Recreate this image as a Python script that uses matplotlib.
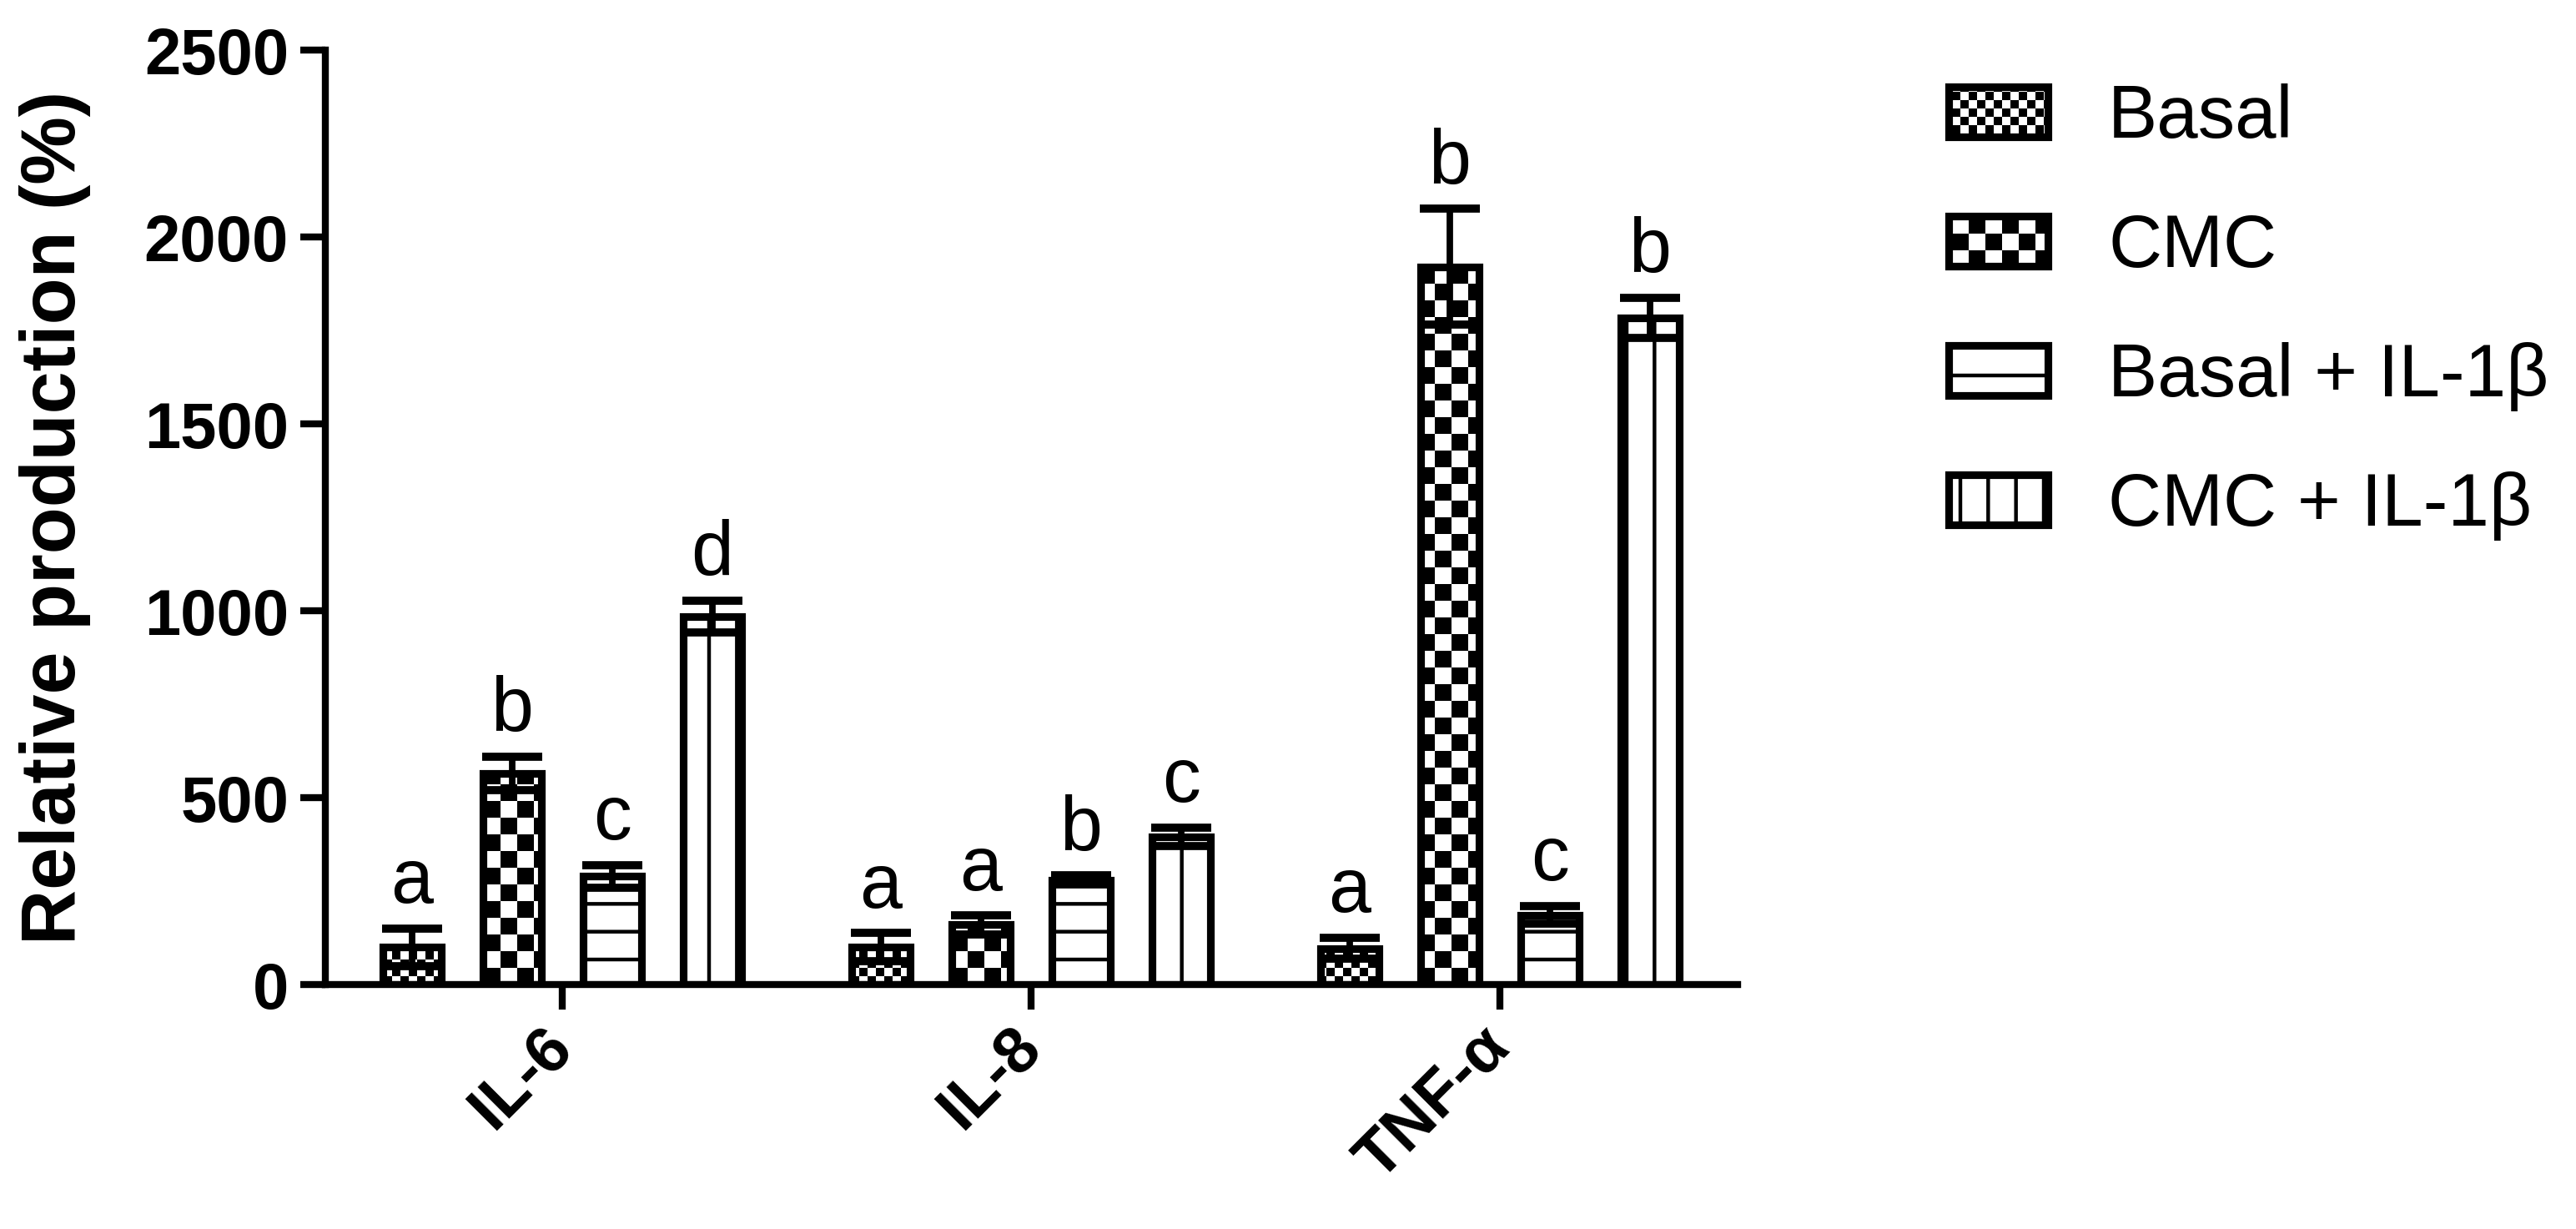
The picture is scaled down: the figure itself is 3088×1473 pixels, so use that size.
import numpy as np
import matplotlib
matplotlib.use('Agg')
import matplotlib.pyplot as plt
from matplotlib import hatch as mhatch
from matplotlib.path import Path

# ---------------- data ----------------
categories = ['IL-6', 'IL-8', 'TNF-α']
series = ['Basal', 'CMC', 'Basal + IL-1β', 'CMC + IL-1β']

basal = [100, 100, 97]
cmc = [565, 160, 1920]
basal_il1b = [290, 280, 186]
cmc_il1b = [985, 395, 1784]

basal_err = [50, 38, 28]
cmc_err = [45, 25, 155]
basal_il1b_err = [30, 12, 24]
cmc_il1b_err = [42, 25, 53]

basal_letters = ['a', 'a', 'a']
cmc_letters = ['b', 'a', 'b']
basal_il1b_letters = ['c', 'b', 'c']
cmc_il1b_letters = ['d', 'c', 'b']

yticks = [0, 500, 1000, 1500, 2000, 2500]

# ---------------- styles ----------------
DPI = 200
HATCH_LW = 1.6  # points
plt.rcParams['hatch.linewidth'] = HATCH_LW
plt.rcParams['hatch.color'] = 'black'
plt.rcParams['font.family'] = ['Liberation Sans', 'DejaVu Sans']

hatch_unit_px = DPI  # agg hatch tile = 72 pt
shrink = (HATCH_LW * DPI / 72.0) / hatch_unit_px / 2.0


class CheckerHatch(mhatch.HatchPatternBase):
    def __init__(self, hatch, density):
        if 'O' in hatch:
            self.n = 10
        elif 'o' in hatch:
            self.n = 20
        else:
            self.n = 0
        self.cells = [(i, j) for i in range(self.n) for j in range(self.n)
                      if (i + j) % 2 == 0]
        self.num_vertices = len(self.cells) * 5

    def set_vertices_and_codes(self, vertices, codes):
        s = 1.0 / self.n
        sq = np.array([[0, 0], [1, 0], [1, 1], [0, 1], [0, 0]], float)
        sq = sq * (s - 2 * shrink) + shrink
        for k, (i, j) in enumerate(self.cells):
            vertices[k * 5:(k + 1) * 5] = sq + [i * s, j * s]
            codes[k * 5:(k + 1) * 5] = [Path.MOVETO, Path.LINETO, Path.LINETO,
                                         Path.LINETO, Path.CLOSEPOLY]


mhatch._hatch_types[:] = [mhatch.HorizontalHatch, mhatch.VerticalHatch,
                          CheckerHatch]

fig = plt.figure(figsize=(3088 / DPI, 1473 / DPI), dpi=DPI)
ax = fig.add_axes([390 / 3088, 1 - 1180 / 1473, (2083 - 390) / 3088,
                   (1180 - 60) / 1473])

x = np.arange(len(categories))
offsets = [-0.3203, -0.1068, 0.1068, 0.3203]
width = 0.125
hatches = ['o', 'O', '-', '|']
all_means = [basal, cmc, basal_il1b, cmc_il1b]
all_errs = [basal_err, cmc_err, basal_il1b_err, cmc_il1b_err]
all_letters = [basal_letters, cmc_letters, basal_il1b_letters, cmc_il1b_letters]

for i in range(4):
    xs = x + offsets[i]
    ax.bar(xs, all_means[i], width, color='white', edgecolor='black',
           linewidth=3.3, hatch=hatches[i], label=series[i], zorder=2)
    ax.errorbar(xs, all_means[i], yerr=all_errs[i], fmt='none',
                ecolor='black', elinewidth=2.8, capsize=13, capthick=3.5,
                zorder=3)
    for xi, m, e, lt in zip(xs, all_means[i], all_errs[i], all_letters[i]):
        ax.annotate(lt, (xi, m + e), xytext=(0, 11),
                    textcoords='offset points', ha='center', va='baseline',
                    fontsize=33, zorder=4)

ax.set_xlim(-0.505, 2.507)
ax.set_ylim(0, 2500)
ax.set_yticks(yticks)
ax.set_yticklabels([str(t) for t in yticks], fontsize=28, fontweight='bold')
ax.set_xticks(x)
ax.set_xticklabels(categories, fontsize=28, fontweight='bold', rotation=45,
                   ha='right', va='center', rotation_mode='anchor')
ax.tick_params(axis='both', length=10.8, width=3, color='black')
ax.tick_params(axis='y', pad=5)
ax.tick_params(axis='x', pad=12)
for side in ['top', 'right']:
    ax.spines[side].set_visible(False)
for side in ['left', 'bottom']:
    ax.spines[side].set_linewidth(3)
ax.set_ylabel('Relative production (%)', fontsize=33, fontweight='bold',
              labelpad=23)

leg = ax.legend(loc='upper left', bbox_to_anchor=(2336 / 3088, 1 - 100 / 1473),
                bbox_transform=fig.transFigure, frameon=False, fontsize=32,
                handlelength=1.34, handleheight=0.66, handletextpad=0.81,
                labelspacing=0.8, borderpad=0, borderaxespad=0)

fig.savefig('out.png', dpi=DPI)
